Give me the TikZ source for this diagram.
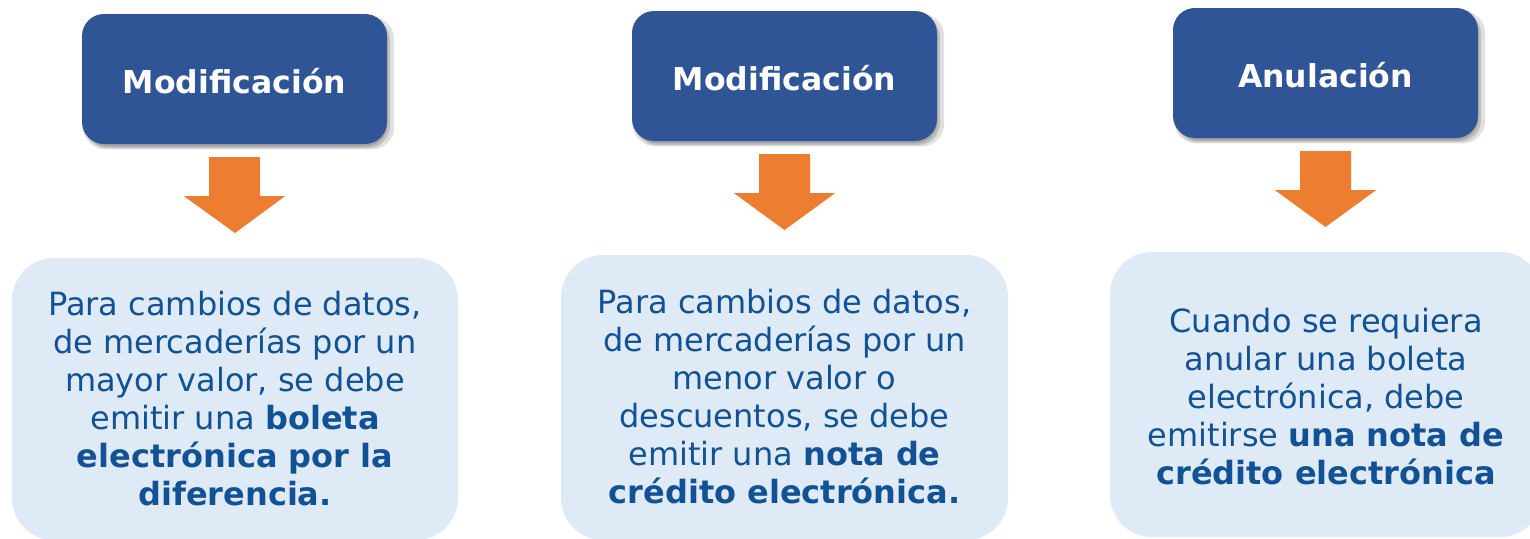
\documentclass[tikz,border=0pt]{standalone}
\usepackage{fontspec}
\setmainfont{DejaVu Sans}
\usetikzlibrary{calc,shadows}
\definecolor{darkbox}{HTML}{2F5597}
\definecolor{lightbox}{HTML}{DEEAF6}
\definecolor{orangearrow}{HTML}{ED7D31}
\definecolor{bodytext}{RGB}{18,82,148}
\tikzset{
  headbox/.style={fill=darkbox, rounded corners=22, minimum width=305, minimum height=130,
    inner sep=0,
    drop shadow={shadow xshift=4pt, shadow yshift=-4pt, opacity=0.12, fill=black, shadow scale=1.02},
    drop shadow={shadow xshift=3pt, shadow yshift=-4pt, opacity=0.15, fill=black},
    drop shadow={shadow xshift=2pt, shadow yshift=-3pt, opacity=0.15, fill=black, shadow scale=0.99}},
  headtext/.style={text=white, font=\fontsize{31.5}{36}\selectfont\bfseries},
  infobox/.style={inner sep=0, text=bodytext,
    font=\fontsize{32}{38}\selectfont, align=center},
  arrowfill/.style={fill=orangearrow},
  lightfill/.style={fill=lightbox, rounded corners=42},
}
\begin{document}
\begin{tikzpicture}[x=1pt,y=-1pt]
\useasboundingbox (0,0) rectangle (1530,538);
% header boxes
\node[headbox] (d1) at (234.5,79) {};
\node[headbox] (d2) at (784.5,76) {};
\node[headbox] (d3) at (1325.5,73) {};
\node[headtext] (t1) at (234.5,81) {Modificación};
\node[headtext] (t2) at (784.5,78) {Modificación};
\node[headtext] (t3) at (1325.5,75) {Anulación};
% info boxes
\path[lightfill] (12,258) rectangle (458,540);
\path[lightfill] (561,255) rectangle (1008,540);
\path[lightfill] (1110,252) rectangle (1542,537);
\coordinate (l1) at (235,258);
\coordinate (l2) at (784.5,255);
\coordinate (l3) at (1325.5,252);
\node[infobox] (b1) at (235,398.5) {Para cambios de datos,\\de mercaderías por un\\mayor valor, se debe\\emitir una \textbf{boleta}\\\textbf{electrónica por la}\\\textbf{diferencia.}};
\node[infobox] (b2) at (784.5,396.5) {Para cambios de datos,\\de mercaderías por un\\menor valor o\\descuentos, se debe\\emitir una \textbf{nota de}\\\textbf{crédito electrónica.}};
\node[infobox] (b3) at (1326,397) {Cuando se requiera\\anular una boleta\\electrónica, debe\\emitirse \textbf{una nota de}\\\textbf{crédito electrónica}};
% arrows
\foreach \d/\l in {d1/l1,d2/l2,d3/l3}{
  \fill[arrowfill] ($(\d.south)+(-25.5,13)$) -- ++(51,0) -- ++(0,39) -- ++(25,0)
    -- ($(\l)+(0,-25)$) -- ($(\d.south)+(-50.5,52)$) -- ++(25,0) -- cycle;
}
\end{tikzpicture}
\end{document}
